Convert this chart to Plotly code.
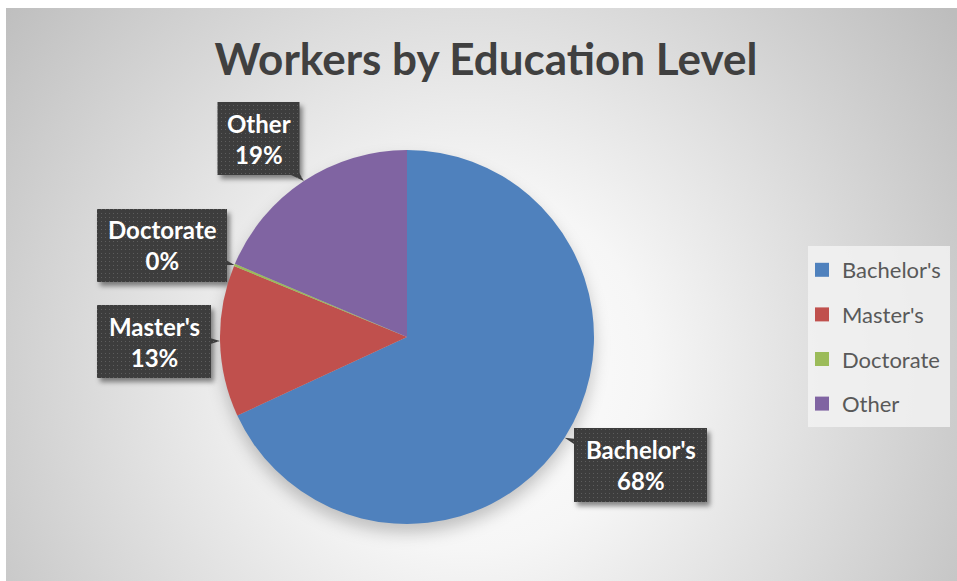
import base64
import math
import plotly.graph_objects as go

# ---------------- data ----------------
categories = ["Bachelor's", "Master's", "Doctorate", "Other"]
values = [68.1, 13.1, 0.2, 18.6]
colors = ["#4F81BD", "#C0504D", "#9BBB59", "#8064A2"]
title_text = "Workers by Education Level"

# ---------------- layout constants (pixels) ----------------
W, H = 957, 581
PIE_CX, PIE_CY, PIE_R = 407, 337, 187
# label box: center x, center y, width, height
label_boxes = {
    "Bachelor's": (640.5, 465.0, 133, 74),
    "Master's": (154.0, 341.5, 114, 73),
    "Doctorate": (162.0, 245.5, 130, 73),
    "Other": (258.5, 138.5, 82, 73),
}
LEGEND_BOX = (808, 246, 950, 427)


def px(x):
    return x / W


def py(y):
    return 1 - y / H


# slice mid-angles (clockwise from 12 o'clock) -> tip points on pie edge
total = sum(values)
tips = {}
cum = 0.0
for cat, v in zip(categories, values):
    a = math.radians((cum + v / 2) / total * 360)
    tips[cat] = (PIE_CX + PIE_R * math.sin(a), PIE_CY - PIE_R * math.cos(a))
    cum += v

# ---------------- background svg (gradient, shadows, callout boxes) ----------------
parts = []
parts.append(
    "<svg xmlns='http://www.w3.org/2000/svg' width='%d' height='%d' viewBox='0 0 %d %d'>" % (W, H, W, H)
)
parts.append(
    "<defs>"
    "<radialGradient id='bg' gradientUnits='userSpaceOnUse' cx='470' cy='370' r='600'>"
    "<stop offset='0' stop-color='#ffffff'/>"
    "<stop offset='0.3' stop-color='#f6f6f6'/>"
    "<stop offset='1' stop-color='#bdbdbd'/>"
    "</radialGradient>"
    "<filter id='b8' x='-50%' y='-50%' width='200%' height='200%'><feGaussianBlur stdDeviation='8'/></filter>"
    "<filter id='b3' x='-50%' y='-50%' width='200%' height='200%'><feGaussianBlur stdDeviation='2.5'/></filter>"
    "<pattern id='dots' width='4' height='4' patternUnits='userSpaceOnUse'>"
    "<rect width='4' height='4' fill='#3d3d3d'/>"
    "<rect x='1' y='1' width='1' height='1' fill='#5d5d5d'/>"
    "</pattern>"
    "</defs>"
)
parts.append("<rect x='6' y='8' width='%d' height='%d' fill='url(#bg)'/>" % (W - 6, H - 8))
lx0, ly0, lx1, ly1 = LEGEND_BOX
parts.append(
    "<rect x='%d' y='%d' width='%d' height='%d' fill='#f2f2f2' fill-opacity='0.85'/>"
    % (lx0, ly0, lx1 - lx0, ly1 - ly0)
)
# pie shadow
parts.append(
    "<circle cx='%d' cy='%d' r='%d' fill='#000' fill-opacity='0.22' filter='url(#b8)'/>"
    % (PIE_CX, PIE_CY + 9, PIE_R)
)
for cat in categories:
    bx, by, bw, bh = label_boxes[cat]
    parts.append(
        "<rect x='%.1f' y='%.1f' width='%d' height='%d' fill='#000' fill-opacity='0.45' filter='url(#b3)'/>"
        % (bx - bw / 2 + 3, by - bh / 2 + 4, bw, bh)
    )
for cat in categories:
    bx, by, bw, bh = label_boxes[cat]
    tx, ty = tips[cat]
    dx, dy = tx - bx, ty - by
    d = math.hypot(dx, dy)
    ux, uy = dx / d, dy / d
    hw = 20
    p1 = (bx - uy * hw, by + ux * hw)
    p2 = (bx + uy * hw, by - ux * hw)
    parts.append(
        "<path d='M%.1f,%.1f L%.1f,%.1f L%.1f,%.1f Z' fill='url(#dots)'/>"
        % (p1[0], p1[1], tx, ty, p2[0], p2[1])
    )
    parts.append(
        "<rect x='%.1f' y='%.1f' width='%d' height='%d' fill='url(#dots)'/>"
        % (bx - bw / 2, by - bh / 2, bw, bh)
    )
parts.append("</svg>")
svg = "".join(parts)
svg_uri = "data:image/svg+xml;base64," + base64.b64encode(svg.encode()).decode()

# ---------------- figure ----------------
fig = go.Figure()
fig.add_trace(
    go.Pie(
        labels=categories,
        values=values,
        marker=dict(colors=colors, line=dict(width=0)),
        sort=False,
        direction="clockwise",
        rotation=0,
        textinfo="none",
        showlegend=False,
        hoverinfo="label+percent",
        domain=dict(
            x=[px(PIE_CX - PIE_R), px(PIE_CX + PIE_R)],
            y=[py(PIE_CY + PIE_R), py(PIE_CY - PIE_R)],
        ),
    )
)

# legend entries (one group each so the gap between them can be set)
for cat, col in zip(categories, colors):
    fig.add_trace(
        go.Scatter(
            x=[None],
            y=[None],
            mode="markers",
            name=cat,
            legendgroup=cat,
            marker=dict(symbol="square", size=14, color=col),
            hoverinfo="skip",
        )
    )

annotations = []
for cat, v in zip(categories, values):
    bx, by, bw, bh = label_boxes[cat]
    pct = round(v / total * 100)
    annotations.append(
        dict(
            text="%s<br>%d%%" % (cat, pct),
            x=px(bx),
            y=py(by),
            xref="paper",
            yref="paper",
            xanchor="center",
            yanchor="middle",
            showarrow=False,
            align="center",
            font=dict(family="Lato", size=24, color="#ffffff", weight="bold"),
        )
    )

fig.update_layout(
    width=W,
    height=H,
    margin=dict(l=0, r=0, t=0, b=0),
    paper_bgcolor="#ffffff",
    plot_bgcolor="rgba(0,0,0,0)",
    template="none",
    xaxis=dict(visible=False),
    yaxis=dict(visible=False),
    title=dict(
        text=title_text,
        x=px(486),
        xanchor="center",
        y=py(60),
        yanchor="middle",
        font=dict(family="Lato", size=44, color="#404040", weight="bold"),
    ),
    legend=dict(
        x=px(802),
        y=py(249),
        xanchor="left",
        yanchor="top",
        bgcolor="rgba(0,0,0,0)",
        font=dict(family="Lato", size=22, color="#595959"),
        tracegroupgap=13,
        itemclick=False,
    ),
    annotations=annotations,
    images=[
        dict(
            source=svg_uri,
            xref="paper",
            yref="paper",
            x=0,
            y=1,
            sizex=1,
            sizey=1,
            xanchor="left",
            yanchor="top",
            sizing="stretch",
            layer="below",
        )
    ],
)

fig.write_html("out.html")
